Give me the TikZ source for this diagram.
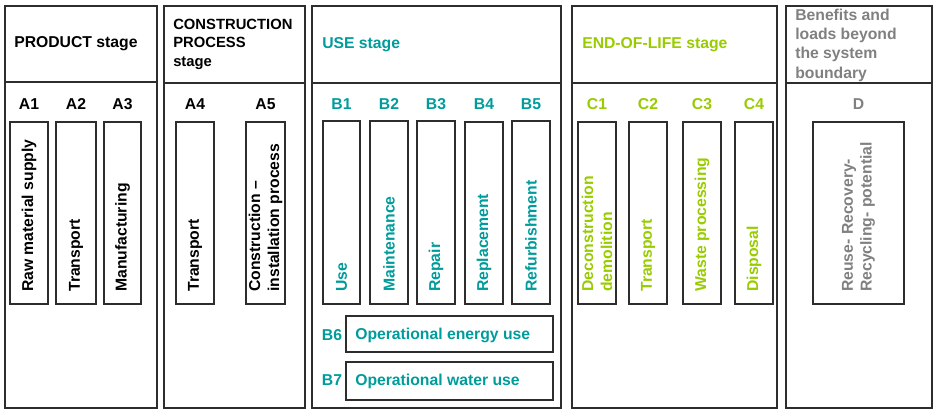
\documentclass[tikz,border=0pt]{standalone}
\usepackage{fontspec}
\setmainfont{Liberation Sans}
\usetikzlibrary{fit}
\definecolor{tealc}{RGB}{0,155,155}
\definecolor{limec}{RGB}{153,204,0}
\definecolor{greyc}{RGB}{128,128,128}
\definecolor{edgec}{RGB}{45,45,45}
\tikzset{
  panel/.style={draw=edgec, line width=1.1pt, inner sep=0pt},
  box/.style={draw=edgec, line width=1.1pt, inner sep=0pt},
  lbl/.style={font=\bfseries\fontsize{11.8}{14.2}\selectfont, inner sep=0pt},
  vtext/.style={lbl, rotate=90, anchor=west, align=left},
  head/.style={lbl, anchor=west, align=left},
}
\begin{document}
\begin{tikzpicture}[x=0.75pt,y=-0.75pt]
\useasboundingbox (0,0) rectangle (941,416);
% panels
\node[panel, fit={(5,6) (157,408)}] (p1) {};
\node[panel, fit={(164,6) (305,408)}] (p2) {};
\node[panel, fit={(312,6) (561,408)}] (p3) {};
\node[panel, fit={(572,6) (777,408)}] (p4) {};
\node[panel, fit={(786,6) (932,408)}] (p5) {};
\draw[panel] (p1.west |- 0,82) -- (p1.east |- 0,82);
\draw[panel] (p2.west |- 0,83) -- (p2.east |- 0,83);
\draw[panel] (p3.west |- 0,83) -- (p3.east |- 0,83);
\draw[panel] (p4.west |- 0,83) -- (p4.east |- 0,83);
\draw[panel] (p5.west |- 0,83) -- (p5.east |- 0,83);
% headers
\node[head] (h1) at (14,44) {PRODUCT stage};
\node[head, font=\bfseries\fontsize{11.1}{13.9}\selectfont] (h2) at (173,44) {CONSTRUCTION\\PROCESS\\stage};
\node[head, text=tealc] (h3) at (322,45) {USE stage};
\node[head, text=limec] (h4) at (582,45) {END-OF-LIFE stage};
\node[head, text=greyc, font=\bfseries\fontsize{11.8}{14.5}\selectfont] (h5) at (795,45) {Benefits and\\loads beyond\\the system\\boundary};
% boxes
\node[box, fit={(10,122) (48,304)}] (a1) {};
\node[box, fit={(56,122) (96,304)}] (a2) {};
\node[box, fit={(104,122) (141,304)}] (a3) {};
\node[box, fit={(176,122) (214,304)}] (a4) {};
\node[box, fit={(246,122) (285,304)}] (a5) {};
\node[box, fit={(323,121) (360,304)}] (b1) {};
\node[box, fit={(370,121) (408,304)}] (b2) {};
\node[box, fit={(417,121) (455,304)}] (b3) {};
\node[box, fit={(465,122) (503,304)}] (b4) {};
\node[box, fit={(512,121) (550,304)}] (b5) {};
\node[box, fit={(346,316) (553,352)}] (b6) {};
\node[box, fit={(346,362) (553,400)}] (b7) {};
\node[box, fit={(578,122) (616,304)}] (c1) {};
\node[box, fit={(629,122) (667,304)}] (c2) {};
\node[box, fit={(683,122) (721,304)}] (c3) {};
\node[box, fit={(735,122) (773,304)}] (c4) {};
\node[box, fit={(813,122) (904,304)}] (d) {};
% codes
\node[lbl] (la1) at (a1.center |- 0,104) {A1};
\node[lbl] (la2) at (a2.center |- 0,104) {A2};
\node[lbl] (la3) at (a3.center |- 0,104) {A3};
\node[lbl] (la4) at (a4.center |- 0,104) {A4};
\node[lbl] (la5) at (a5.center |- 0,104) {A5};
\node[lbl, text=tealc] (lb1) at (b1.center |- 0,104) {B1};
\node[lbl, text=tealc] (lb2) at (b2.center |- 0,104) {B2};
\node[lbl, text=tealc] (lb3) at (b3.center |- 0,104) {B3};
\node[lbl, text=tealc] (lb4) at (b4.center |- 0,104) {B4};
\node[lbl, text=tealc] (lb5) at (b5.center |- 0,104) {B5};
\node[lbl, text=tealc] (lb6) at (332,335) {B6};
\node[lbl, text=tealc] (lb7) at (332,380) {B7};
\node[lbl, text=limec] (lc1) at (c1.center |- 0,104) {C1};
\node[lbl, text=limec] (lc2) at (c2.center |- 0,104) {C2};
\node[lbl, text=limec] (lc3) at (c3.center |- 0,104) {C3};
\node[lbl, text=limec] (lc4) at (c4.center |- 0,104) {C4};
\node[lbl, text=greyc] (ld) at (d.center |- 0,104) {D};
% vertical texts
\node[vtext] (ta1) at (a1.center |- 0,292) {Raw material supply};
\node[vtext] (ta2) at (a2.center |- 0,292) {Transport};
\node[vtext] (ta3) at (a3.center |- 0,292) {Manufacturing};
\node[vtext] (ta4) at (a4.center |- 0,292) {Transport};
\node[vtext] (ta5) at (a5.center |- 0,292) {Construction –\\installation process};
\node[vtext, text=tealc] (tb1) at (b1.center |- 0,292) {Use};
\node[vtext, text=tealc] (tb2) at (b2.center |- 0,292) {Maintenance};
\node[vtext, text=tealc] (tb3) at (b3.center |- 0,292) {Repair};
\node[vtext, text=tealc] (tb4) at (b4.center |- 0,292) {Replacement};
\node[vtext, text=tealc] (tb5) at (b5.center |- 0,292) {Refurbishment};
\node[lbl, text=tealc, anchor=west] (tb6) at (355,335) {Operational energy use};
\node[lbl, text=tealc, anchor=west] (tb7) at (355,381) {Operational water use};
\node[vtext, text=limec] (tc1) at (c1.center |- 0,292) {Deconstruction\\demolition};
\node[vtext, text=limec] (tc2) at (c2.center |- 0,292) {Transport};
\node[vtext, text=limec] (tc3) at (c3.center |- 0,292) {Waste processing};
\node[vtext, text=limec] (tc4) at (c4.center |- 0,292) {Disposal};
\node[vtext, text=greyc] (td) at (d.center |- 0,292) {Reuse- Recovery-\\Recycling- potential};
\end{tikzpicture}
\end{document}
